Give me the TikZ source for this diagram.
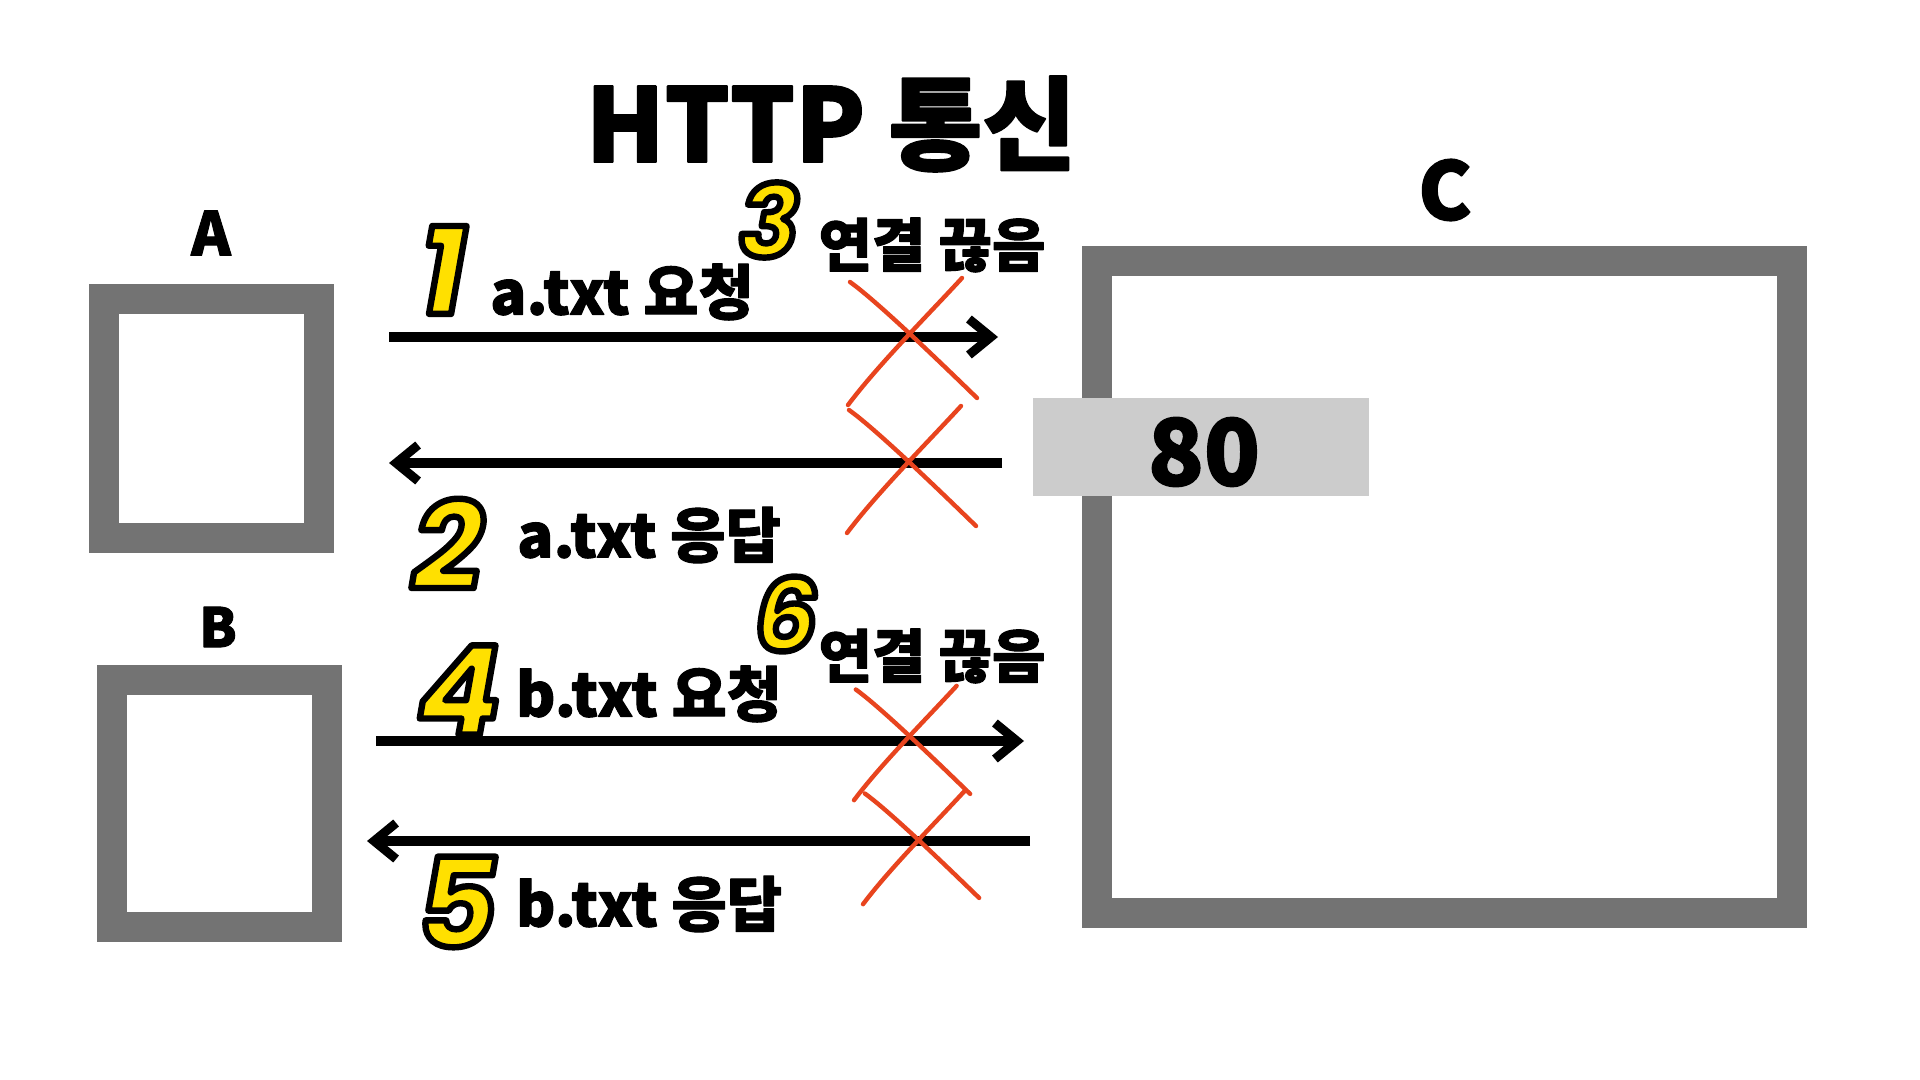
\documentclass[tikz,border=0pt]{standalone}
\usepackage{fontspec}
\usetikzlibrary{arrows.meta,calc}
\newfontfamily\kr{Noto Sans CJK KR}
\newfontfamily\numf{Poppins}
\definecolor{boxgray}{HTML}{737373}
\definecolor{portgray}{HTML}{CCCCCC}
\definecolor{xred}{HTML}{E8441E}
\definecolor{numyellow}{HTML}{FFE000}
\newcommand\outlinenum[1]{\special{pdf:literal direct 2 Tr 3.2 w 0 0 0 RG 1 j}#1\special{pdf:literal direct 0 Tr}}
\newcommand\heavy[2]{\special{pdf:literal direct 2 Tr #1 w 0 0 0 RG 1 j}#2\special{pdf:literal direct 0 Tr}}
\newcommand\drawcross[2]{%
  \draw[xmark] ($(#1)+#2*(-58,-55)$) .. controls ($(#1)+#2*(-30,-35)$) and ($(#1)+#2*(35,28)$) .. ($(#1)+#2*(69,61)$);
  \draw[xmark] ($(#1)+#2*(54,-59)$) .. controls ($(#1)+#2*(20,-22)$) and ($(#1)+#2*(-30,28)$) .. ($(#1)+#2*(-60,68)$);}
\begin{document}
\begin{tikzpicture}[x=0.5pt,y=-0.5pt,
  frame/.style={draw=boxgray,line width=15pt,inner sep=0pt,outer sep=0pt},
  port/.style={fill=portgray,inner sep=0pt,minimum width=168pt,minimum height=49pt},
  msg/.style={line width=5pt,-{Straight Barb[length=11pt,width=18pt,line width=4.5pt]}},
  xmark/.style={draw=xred,line width=2.2pt,line cap=round},
  lbl/.style={font=\kr\bfseries\fontsize{30pt}{36pt}\selectfont,inner sep=0pt},
  cut/.style={font=\kr\bfseries\fontsize{29pt}{34pt}\selectfont,inner sep=0pt},
  bignum/.style={font=\numf\bfseries\itshape\fontsize{62pt}{70pt}\selectfont,text=numyellow,inner sep=0pt},
  smallnum/.style={font=\numf\bfseries\itshape\fontsize{50pt}{56pt}\selectfont,text=numyellow,inner sep=0pt},
  hostname/.style={inner sep=0pt}]
\fill[white] (0,0) rectangle (1920,1080);
\useasboundingbox (0,0) rectangle (1920,1080);

% title
\node[font=\kr\bfseries\fontsize{51pt}{60pt}\selectfont,inner sep=0pt] (title) at (831,124) {\heavy{0.9}{HTTP 통신}};

% hosts
\node[hostname,font=\kr\bfseries\fontsize{30pt}{36pt}\selectfont] (labA) at (211,233) {\heavy{0.5}{A}};
\node[hostname,font=\kr\bfseries\fontsize{27pt}{32pt}\selectfont] (labB) at (218,627) {\heavy{0.5}{B}};
\node[hostname,font=\kr\bfseries\fontsize{40pt}{48pt}\selectfont] (labC) at (1445,190) {\heavy{0.7}{C}};

\node[frame,minimum width=107.5pt,minimum height=119.5pt] (boxA) at (211.5,418.5) {};
\node[frame,minimum width=107.5pt,minimum height=123.5pt] (boxB) at (219.5,803.5) {};
\node[frame,minimum width=347.5pt,minimum height=326pt] (boxC) at (1444.5,587) {};
\node[port] (port) at (1201,447) {};
\node[font=\kr\bfseries\fontsize{46pt}{54pt}\selectfont,inner sep=0pt] (p80) at (1204,452) {\heavy{0.8}{80}};

% arrows
\coordinate (a1s) at (389,337); \coordinate (a1e) at (998,337);
\coordinate (a2s) at (1002,463); \coordinate (a2e) at (389,463);
\coordinate (a4s) at (376,741); \coordinate (a4e) at (1024,741);
\coordinate (a5s) at (1030,841); \coordinate (a5e) at (367,841);
\draw[msg] (a1s) -- (a1e);
\draw[msg] (a2s) -- (a2e);
\draw[msg] (a4s) -- (a4e);
\draw[msg] (a5s) -- (a5e);

% labels
\node[lbl] (t1) at (622,292) {\heavy{0.5}{a.txt 요청}};
\node[lbl] (t2) at (649,535) {\heavy{0.5}{a.txt 응답}};
\node[lbl] (t4) at (649,694) {\heavy{0.5}{b.txt 요청}};
\node[lbl] (t5) at (649,904) {\heavy{0.5}{b.txt 응답}};
\node[cut] (c3) at (932,245) {\heavy{0.5}{연결 끊음}};
\node[cut] (c6) at (932,656) {\heavy{0.5}{연결 끊음}};

% numbers
\node[bignum] (n1) at (443,270) {\outlinenum{1}};
\node[bignum] (n2) at (448,544) {\outlinenum{2}};
\node[smallnum] (n3) at (769,220) {\outlinenum{3}};
\node[bignum] (n4) at (459,690) {\outlinenum{4}};
\node[bignum] (n5) at (457,902) {\outlinenum{5}};
\node[smallnum] (n6) at (786,614) {\outlinenum{6}};

% X marks
\coordinate (x1) at (908,337);
\coordinate (x2) at (907,465);
\coordinate (x3) at (908,739);
\coordinate (x4) at (917,843);
\drawcross{x1}{1}
\drawcross{x2}{1}
\drawcross{x3}{0.9}
\drawcross{x4}{0.9}
\end{tikzpicture}
\end{document}
